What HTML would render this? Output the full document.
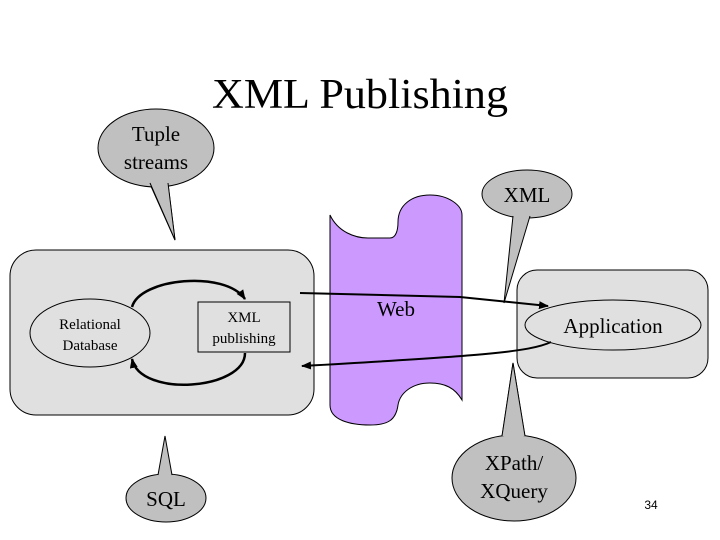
<!DOCTYPE html>
<html><head><meta charset="utf-8"><style>body{margin:0;background:#fff}svg{display:block}</style></head>
<body>
<svg width="720" height="540" viewBox="0 0 720 540" xmlns="http://www.w3.org/2000/svg" font-family="Liberation Serif, serif">
<defs>
<marker id="ar" markerWidth="10" markerHeight="8" refX="9" refY="4" orient="auto" markerUnits="userSpaceOnUse"><path d="M0,0 L10,4 L0,8 Z" fill="#000"/></marker>
</defs>
<text x="212" y="108" font-size="42" textLength="296" lengthAdjust="spacingAndGlyphs">XML Publishing</text>

<!-- Tuple streams bubble -->
<path d="M150,184 L175,240 L168,184 Z" fill="#c0c0c0" stroke="#000"/>
<ellipse cx="156" cy="148" rx="58" ry="39" fill="#c0c0c0" stroke="#000"/>
<path d="M150,183 L175,240 L168,183" fill="#c0c0c0" stroke="#000"/>
<text x="156" y="141" font-size="21" text-anchor="middle">Tuple</text>
<text x="156" y="169" font-size="21" text-anchor="middle">streams</text>

<!-- left box -->
<rect x="10" y="250" width="304" height="165" rx="26" fill="#e0e0e0" stroke="#000"/>
<ellipse cx="90" cy="333" rx="60" ry="34" fill="#e0e0e0" stroke="#000"/>
<text x="90" y="329" font-size="15" text-anchor="middle">Relational</text>
<text x="90" y="350" font-size="15" text-anchor="middle">Database</text>
<rect x="198" y="302" width="92" height="50" fill="#e0e0e0" stroke="#000"/>
<text x="244" y="322" font-size="15" text-anchor="middle">XML</text>
<text x="244" y="343" font-size="15" text-anchor="middle">publishing</text>
<path d="M132,307 C140,278 225,270 245,299" fill="none" stroke="#000" stroke-width="2.5" marker-end="url(#ar)"/>
<path d="M245,353 C245,390 140,398 132,359" fill="none" stroke="#000" stroke-width="2.5" marker-end="url(#ar)"/>

<!-- Web shape -->
<path d="M330,215 C338,232 355,238 368,238 L390,238 C396,238 398,230 398,222 C398,205 412,195 430,195 C448,195 462,205 462,215 L462,400 C455,388 445,383 430,383 C412,383 400,393 398,405 C396,420 388,425 370,425 C350,425 330,420 330,405 Z" fill="#cc99ff" stroke="#000"/>
<text x="396" y="316" font-size="21" text-anchor="middle">Web</text>

<!-- Application box -->
<rect x="517" y="270" width="191" height="108" rx="20" fill="#e0e0e0" stroke="#000"/>
<ellipse cx="613" cy="325" rx="88" ry="25" fill="#e0e0e0" stroke="#000"/>
<text x="613" y="333" font-size="21" text-anchor="middle">Application</text>

<!-- arrows -->
<path d="M300,293 L460,297 L548,306" fill="none" stroke="#000" stroke-width="2" marker-end="url(#ar)"/>
<path d="M551,342 C530,352 480,356 302,366" fill="none" stroke="#000" stroke-width="2" marker-end="url(#ar)"/>

<!-- XML bubble -->
<ellipse cx="527" cy="194" rx="45" ry="24" fill="#c0c0c0" stroke="#000"/>
<path d="M513,216 L504,303 L530,216" fill="#c0c0c0" stroke="#000"/>
<text x="527" y="202" font-size="21" text-anchor="middle">XML</text>

<!-- XPath bubble -->
<path d="M502,437 L513,363 L525,437" fill="#c0c0c0" stroke="#000"/>
<ellipse cx="514" cy="478" rx="62" ry="43" fill="#c0c0c0" stroke="#000"/>
<path d="M502,436 L513,363 L525,436" fill="#c0c0c0" stroke="#000"/>
<text x="514" y="470" font-size="21" text-anchor="middle">XPath/</text>
<text x="514" y="498" font-size="21" text-anchor="middle">XQuery</text>

<!-- SQL bubble -->
<ellipse cx="166" cy="498" rx="40" ry="24" fill="#c0c0c0" stroke="#000"/>
<path d="M158,475 L165,436 L172,475" fill="#c0c0c0" stroke="#000"/>
<text x="166" y="506" font-size="21" text-anchor="middle">SQL</text>

<text x="651" y="509" font-size="12" text-anchor="middle" font-family="Liberation Sans, sans-serif">34</text>
</svg>
</body></html>
